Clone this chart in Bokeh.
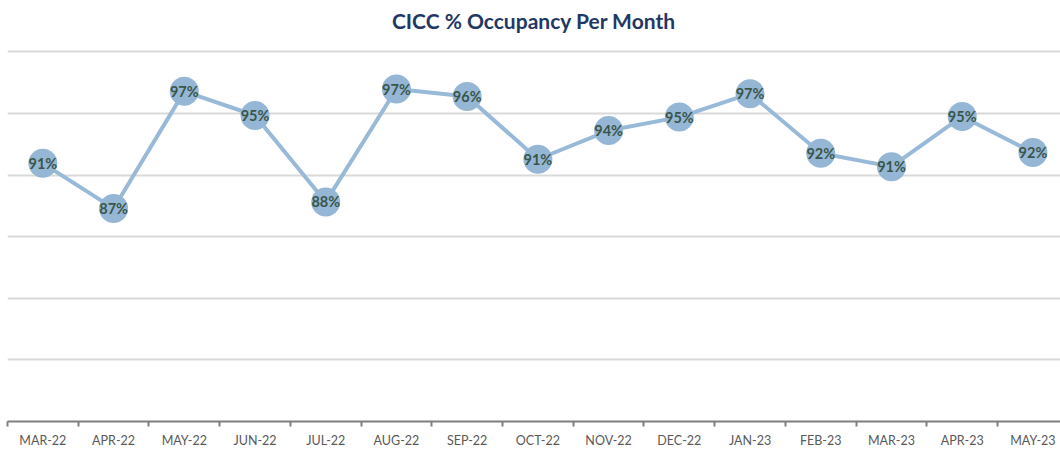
from bokeh.plotting import figure
from bokeh.models import Range1d, FixedTicker, ColumnDataSource
from bokeh.core.properties import value
from bokeh.embed import file_html
from bokeh.resources import INLINE

months = ["MAR-22", "APR-22", "MAY-22", "JUN-22", "JUL-22", "AUG-22", "SEP-22", "OCT-22",
          "NOV-22", "DEC-22", "JAN-23", "FEB-23", "MAR-23", "APR-23", "MAY-23"]
occupancy = [90.95, 87.29, 96.79, 94.83, 87.82, 96.98, 96.38, 91.28,
             93.61, 94.70, 96.60, 91.77, 90.68, 94.75, 91.82]
labels = [f"{round(v)}%" for v in occupancy]
y_ticks = [70, 75, 80, 85, 90, 95, 100]

x = list(range(len(months)))
src = ColumnDataSource(dict(x=x, y=occupancy, label=labels))

p = figure(width=1060, height=450, output_backend="svg", toolbar_location=None,
           x_range=Range1d(-0.5, 14.39), y_range=Range1d(70, 101.16),
           min_border_left=7, min_border_right=0, min_border_top=0, min_border_bottom=0)
p.outline_line_color = None
p.background_fill_color = "white"
p.border_fill_color = "white"

p.title.text = "CICC % Occupancy Per Month"
p.title.align = "center"
p.title.text_font = "Lato"
p.title.text_font_size = "21px"
p.title.text_font_style = "bold"
p.title.text_color = "#1F3864"

p.line("x", "y", source=src, line_color="#98BAD8", line_width=4)
p.scatter("x", "y", source=src, size=29, fill_color="#95B7D5", line_color=None)
p.text("x", "y", text="label", source=src, text_align="center", text_baseline="middle",
       text_font=value("Lato"), text_font_size="14.5px", text_font_style="bold",
       text_color="#3A5549")

p.xgrid.visible = False
p.yaxis.visible = False
p.yaxis.ticker = FixedTicker(ticks=y_ticks)
p.ygrid.ticker = FixedTicker(ticks=y_ticks)
p.ygrid.grid_line_color = "#d9d9d9"
p.ygrid.grid_line_width = 2

p.xaxis.ticker = FixedTicker(ticks=x, minor_ticks=[i - 0.5 for i in range(len(months) + 1)])
p.xaxis.major_label_overrides = {i: m for i, m in enumerate(months)}
p.xaxis.major_tick_out = 0
p.xaxis.major_tick_in = 0
p.xaxis.minor_tick_out = 5
p.xaxis.minor_tick_in = 0
p.xaxis.axis_line_color = "#7f7f7f"
p.xaxis.axis_line_width = 2
p.xaxis.minor_tick_line_color = "#7f7f7f"
p.xaxis.minor_tick_line_width = 2
p.xaxis.major_label_text_font = "Lato"
p.xaxis.major_label_text_font_size = "12.5px"
p.xaxis.major_label_text_color = "#595959"
p.xaxis.major_label_standoff = 6

open("out.html", "w").write(file_html(p, INLINE))
